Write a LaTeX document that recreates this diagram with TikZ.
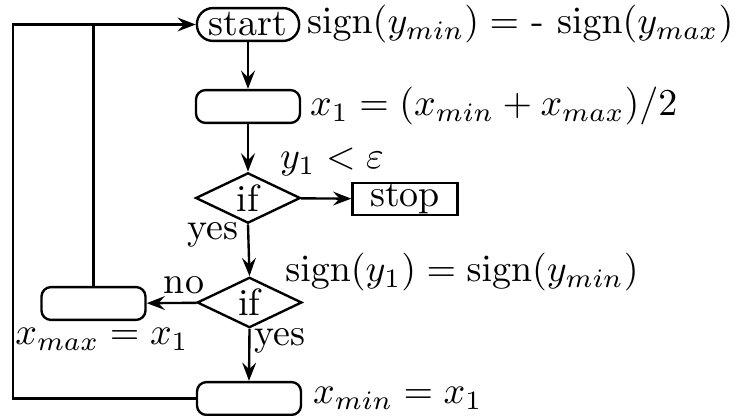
\RequirePackage{fix-cm}
\documentclass[tikz,border=0pt]{standalone}
\usetikzlibrary{shapes.geometric,arrows.meta}
\begin{document}
\begin{tikzpicture}[x=0.274pt,y=-0.274pt,
  line width=0.65pt,
  every node/.style={font=\fontsize{10.4}{12.5}\selectfont},
  arr/.style={-{Stealth[length=5pt,width=3.8pt,inset=1.8pt]}},
  term/.style={draw,rectangle,rounded corners=4.4pt,minimum width=28pt,minimum height=9pt,inner sep=0pt},
  proc/.style={draw,rectangle,rounded corners=2.6pt,minimum width=28.5pt,minimum height=9pt,inner sep=0pt},
  stopbox/.style={draw,rectangle,minimum width=28.8pt,minimum height=8.6pt,inner sep=0pt},
  dec/.style={draw,diamond,minimum width=28.7pt,minimum height=13.8pt,inner sep=0pt},
  lbl/.style={inner sep=0pt}]
\useasboundingbox (0,0) rectangle (738,416);
\node[term] (start) at (248,24.5) {start};
\node[proc] (calc) at (248,106.5) {};
\node[dec] (if1) at (248,198) {if};
\node[stopbox] (stop) at (405,199) {stop};
\node[dec] (if2) at (249.5,302.5) {if};
\node[proc] (left) at (93.5,303.5) {};
\node[proc] (bot) at (249,398.5) {};
\coordinate (c1) at (13,398.5);
\coordinate (c2) at (13,24.5);
\coordinate (c3) at (93.5,24.5);
\draw[arr] (start) -- (calc);
\draw[arr] (calc) -- (if1);
\draw[arr] (if1) -- (stop);
\draw[arr] (if1.south) -- (if2.north);
\draw[arr] (if2) -- (left);
\draw[arr] (if2.south) -- (bot.north);
\draw[arr] (bot.west) -- (c1) -- (c2) -- (start.west);
\draw (left.north) -- (c3);
\node[lbl,anchor=west] (t1) at (306,24.5) {$\mathrm{sign}(y_{min}) =$ - $\mathrm{sign}(y_{max})$};
\node[lbl,anchor=west] (t2) at (309,106.5) {$x_1 = (x_{min} + x_{max})/2$};
\node[lbl] (t3) at (332,162) {$y_1 < \varepsilon$};
\node[lbl] (t4) at (213,235) {yes};
\node[lbl] (t5) at (462,272) {$\mathrm{sign}(y_1) = \mathrm{sign}(y_{min})$};
\node[lbl] (t6) at (184,285) {no};
\node[lbl] (t7) at (102,339) {$x_{max} = x_1$};
\node[lbl] (t8) at (280,341) {yes};
\node[lbl,anchor=west] (t9) at (312,398.5) {$x_{min} = x_1$};
\end{tikzpicture}
\end{document}
